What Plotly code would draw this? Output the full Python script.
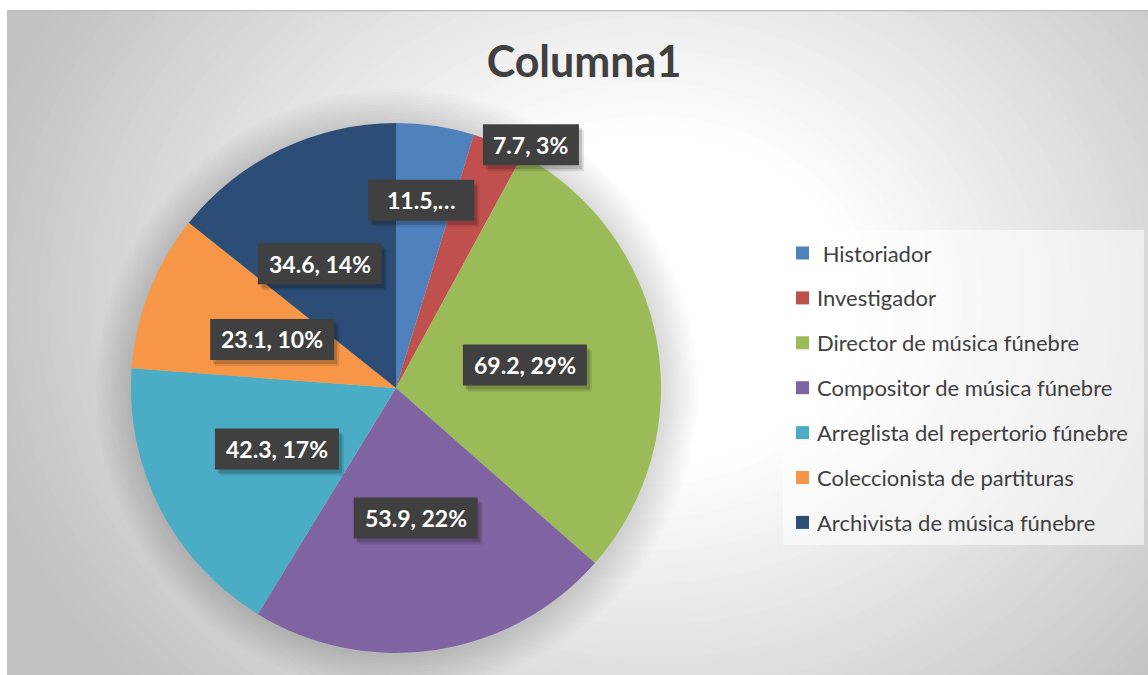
import math
import plotly.graph_objects as go

# ---------------- data ----------------
categories = [
    " Historiador",
    "Investigador",
    "Director de música fúnebre",
    "Compositor de música fúnebre",
    "Arreglista del repertorio fúnebre",
    "Coleccionista de partituras",
    "Archivista de música fúnebre",
]
values = [11.5, 7.7, 69.2, 53.9, 42.3, 23.1, 34.6]
colors = ["#4F81BD", "#C0504D", "#9BBB59", "#8064A2", "#4BACC6", "#F79646", "#2C4D75"]
chart_title = "Columna1"
truncated = [True, False, False, False, False, False, False]  # label cut short in the source

# ---------------- layout parameters (pixels) ----------------
W, H = 1148, 675
AX0, AY0, AX1, AY1 = 7, 10, 1148, 675          # chart area
PCX, PCY, PR = 396, 388, 265                    # pie centre / radius
label_radius = [0.715, 1.05, 0.494, 0.496, 0.505, 0.502, 0.55]
label_angle_shift = [-0.9, 6.2, 0.0, 0.0, 0.0, 0.0, -5.8]
label_box_w = [106, 96, 124, 124, 124, 124, 124]
LABEL_BOX_H = 41
LEG_X0, LEG_Y0, LEG_X1, LEG_Y1 = 783, 230, 1144, 545
LEG_ROW0, LEG_PITCH = 253, 44.9
FONT = "Lato"
TXT = "#404040"

pw, ph = AX1 - AX0, AY1 - AY0

fig = go.Figure()

# invisible trace so that pixel-like axes exist for background shapes
fig.add_trace(go.Scatter(x=[], y=[], showlegend=False, hoverinfo="skip"))

fig.add_trace(go.Pie(
    labels=categories,
    values=values,
    marker=dict(colors=colors, line=dict(width=0)),
    sort=False,
    direction="clockwise",
    rotation=0,
    textinfo="none",
    showlegend=False,
    domain=dict(
        x=[(PCX - PR - AX0) / pw, (PCX + PR - AX0) / pw],
        y=[1 - (PCY + PR - AY0) / ph, 1 - (PCY - PR - AY0) / ph],
    ),
    hovertemplate="%{label}: %{value} (%{percent})<extra></extra>",
))

shapes = []

# radial background gradient (stepped ellipses)
gcx, gcy, ga, gb = 650, 300, 580, 480
u0, u1, gray_end = 0.35, 1.2, 194
steps = 64
for k in range(steps + 1):
    u = 1.45 - (1.45 - u0) * k / steps
    t = min(max((u - u0) / (u1 - u0), 0), 1)
    g = round(255 - t * (255 - gray_end))
    col = f"rgb({g},{g},{g})"
    shapes.append(dict(type="circle", xref="x", yref="y", layer="below",
                       x0=gcx - ga * u, x1=gcx + ga * u, y0=gcy - gb * u, y1=gcy + gb * u,
                       fillcolor=col, line=dict(width=0)))

# soft shadow around the pie
for k in range(12, 0, -1):
    r = PR + 3 * k
    shapes.append(dict(type="circle", xref="x", yref="y", layer="below",
                       x0=PCX + 1 - r, x1=PCX + 1 + r, y0=PCY + 2 - r, y1=PCY + 2 + r,
                       fillcolor="rgba(0,0,0,0.012)", line=dict(width=0)))

# chart-area top/left border
shapes.append(dict(type="line", xref="x", yref="y", layer="above",
                   x0=AX0, x1=AX1, y0=AY0 + 0.5, y1=AY0 + 0.5,
                   line=dict(color="#bdbdbd", width=1.5)))
shapes.append(dict(type="line", xref="x", yref="y", layer="above",
                   x0=AX0 + 0.5, x1=AX0 + 0.5, y0=AY0, y1=AY1,
                   line=dict(color="#c2c2c2", width=1)))

# legend box
shapes.append(dict(type="rect", xref="x", yref="y", layer="above",
                   x0=LEG_X0, x1=LEG_X1, y0=LEG_Y0, y1=LEG_Y1,
                   fillcolor="rgba(255,255,255,0.55)", line=dict(width=0)))

annotations = []

# legend entries
for i, (name, c) in enumerate(zip(categories, colors)):
    yc = LEG_ROW0 + LEG_PITCH * i
    shapes.append(dict(type="rect", xref="x", yref="y", layer="above",
                       x0=796, x1=809, y0=yc - 6.5, y1=yc + 6.5,
                       fillcolor=c, line=dict(width=0)))
    disp = name.replace(" ", "\u00a0", 1) if name.startswith(" ") else name
    annotations.append(dict(x=815, y=yc, xref="x", yref="y", text=disp,
                            showarrow=False, xanchor="left", yanchor="middle",
                            font=dict(family=FONT, size=22, color=TXT)))

# data labels (positioned from the slice angles)
total = sum(values)
cum = 0.0
for i, v in enumerate(values):
    mid = (cum + v / 2) / total * 360.0 + label_angle_shift[i]
    cum += v
    th = math.radians(mid)
    r = PR * label_radius[i]
    lx = PCX + r * math.sin(th)
    ly = PCY - r * math.cos(th)
    pct = round(v / total * 100)
    txt = f"{v},…" if truncated[i] else f"{v}, {pct}%"
    bw, bh = label_box_w[i], LABEL_BOX_H
    # blurred drop shadow (two offset layers)
    for off, alpha in ((5, 0.10), (3, 0.16)):
        shapes.append(dict(type="rect", xref="x", yref="y", layer="above",
                           x0=lx - bw / 2 + off, x1=lx + bw / 2 + off,
                           y0=ly - bh / 2 + off + 1, y1=ly + bh / 2 + off + 1,
                           fillcolor=f"rgba(0,0,0,{alpha})", line=dict(width=0)))
    shapes.append(dict(type="rect", xref="x", yref="y", layer="above",
                       x0=lx - bw / 2, x1=lx + bw / 2, y0=ly - bh / 2, y1=ly + bh / 2,
                       fillcolor="#404040", line=dict(width=0)))
    annotations.append(dict(x=lx, y=ly, xref="x", yref="y", text=f"<b>{txt}</b>",
                            showarrow=False, xanchor="center", yanchor="middle",
                            font=dict(family=FONT, size=23, color="white")))

fig.update_layout(
    width=W, height=H,
    margin=dict(l=AX0, r=W - AX1, t=AY0, b=H - AY1, pad=0),
    paper_bgcolor="white",
    plot_bgcolor=f"rgb({gray_end},{gray_end},{gray_end})",
    xaxis=dict(range=[AX0, AX1], visible=False, fixedrange=True),
    yaxis=dict(range=[AY1, AY0], visible=False, fixedrange=True),
    shapes=shapes,
    annotations=annotations,
    title=dict(text=f"<b>{chart_title}</b>", x=584 / W, xanchor="center",
               y=1 - 62 / H, yanchor="middle", yref="container", xref="container",
               font=dict(family=FONT, size=43, color=TXT)),
    showlegend=False,
)

fig.write_html("out.html")
